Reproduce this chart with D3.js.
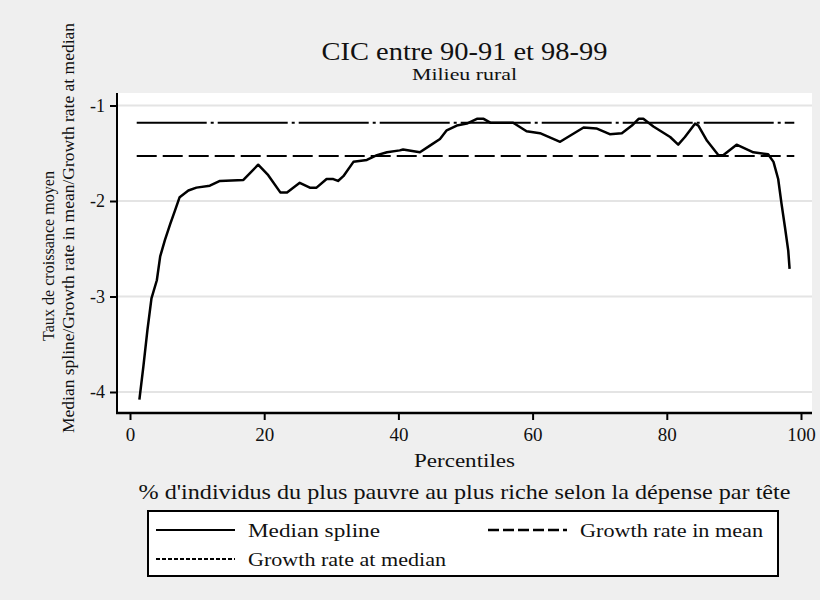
<!DOCTYPE html>
<html>
<head>
<meta charset="utf-8">
<script src="https://cdn.jsdelivr.net/npm/d3@7"></script>
<style>
  body { margin: 0; background: #efefef; }
  svg { display: block; font-family: "Liberation Serif", "DejaVu Serif", serif; }
</style>
</head>
<body>
<svg></svg>
<script>
// percentiles and median spline values
const percentiles = [1.4, 2.0, 2.6, 3.2, 4.0, 4.5, 5.2, 6.0, 6.7, 7.4, 8.7, 9.9, 11.9, 13.4, 16.9,
  19.1, 20.6, 22.4, 23.4, 25.3, 26.8, 27.8, 29.3, 30.3, 31.0, 31.8, 33.3, 35.3, 36.8, 38.3,
  40.2, 40.7, 43.2, 44.7, 46.2, 47.2, 48.7, 50.2, 51.7, 52.7, 53.7, 57.1, 59.1, 61.1, 64.1,
  67.6, 69.5, 71.5, 73.3, 74.8, 75.8, 76.5, 78.0, 80.5, 81.7, 82.7, 84.2, 84.7, 86.0, 87.7,
  88.4, 90.4, 92.9, 95.1, 95.9, 96.6, 97.1, 97.6, 98.1, 98.3];
const medianSpline = [-4.08, -3.73, -3.35, -3.02, -2.83, -2.58, -2.41, -2.24, -2.10, -1.96, -1.89, -1.86, -1.84, -1.79, -1.78,
  -1.62, -1.73, -1.91, -1.91, -1.81, -1.86, -1.86, -1.77, -1.77, -1.79, -1.74, -1.59, -1.57, -1.52, -1.49,
  -1.47, -1.46, -1.49, -1.42, -1.35, -1.26, -1.21, -1.19, -1.14, -1.14, -1.18, -1.18, -1.27, -1.29, -1.38,
  -1.23, -1.24, -1.30, -1.29, -1.21, -1.14, -1.14, -1.22, -1.33, -1.41, -1.33, -1.19, -1.21, -1.37, -1.52,
  -1.52, -1.41, -1.49, -1.51, -1.59, -1.77, -2.03, -2.27, -2.52, -2.71];
const growthMean = -1.53;
const growthMedian = -1.18;
const refRange = [1, 99];
const xTicks = [0, 20, 40, 60, 80, 100];
const yTicks = [-1, -2, -3, -4];

const width = 820, height = 600;
const svg = d3.select("svg").attr("width", width).attr("height", height);

// plot region box
const box = { left: 117, right: 812, top: 93, bottom: 413 };

const x = d3.scaleLinear().domain([0, 100]).range([130, 801]);
const y = d3.scaleLinear().domain([-1, -4]).range([105.5, 392]);

svg.append("rect")
    .attr("x", box.left).attr("y", box.top)
    .attr("width", box.right - box.left).attr("height", box.bottom - box.top)
    .attr("fill", "#fff");

// gridlines
svg.append("g").selectAll("line")
    .data(yTicks)
    .enter().append("line")
    .attr("x1", box.left).attr("x2", box.right)
    .attr("y1", d => y(d)).attr("y2", d => y(d))
    .attr("stroke", "#e4e4e4").attr("stroke-width", 2);

// axes (plain hyphen minus like the original)
const xAxis = d3.axisBottom(x).tickValues(xTicks).tickSize(7).tickPadding(8)
    .tickFormat(d => String(d));
const gx = svg.append("g").attr("transform", `translate(0,${box.bottom})`).call(xAxis)
    .attr("font-family", null).attr("font-size", null);
gx.select(".domain").remove();
gx.selectAll("line").attr("stroke", "#000").attr("stroke-width", 2);
gx.selectAll("text").attr("font-size", 19).attr("fill", "#111");

const yAxis = d3.axisLeft(y).tickValues(yTicks).tickSize(7).tickPadding(5)
    .tickFormat(d => String(d));
const gy = svg.append("g").attr("transform", `translate(${box.left},0)`).call(yAxis)
    .attr("font-family", null).attr("font-size", null);
gy.select(".domain").remove();
gy.selectAll("line").attr("stroke", "#000").attr("stroke-width", 2);
gy.selectAll("text").attr("font-size", 18).attr("fill", "#111");

svg.append("line")
    .attr("x1", box.left).attr("x2", box.left)
    .attr("y1", box.top).attr("y2", box.bottom + 1)
    .attr("stroke", "#000").attr("stroke-width", 2);
svg.append("line")
    .attr("x1", box.left - 1).attr("x2", box.right)
    .attr("y1", box.bottom).attr("y2", box.bottom)
    .attr("stroke", "#000").attr("stroke-width", 2.5);

// reference lines
svg.append("line")
    .attr("x1", x(refRange[0])).attr("x2", x(refRange[1]))
    .attr("y1", y(growthMedian)).attr("y2", y(growthMedian))
    .attr("stroke", "#000").attr("stroke-width", 2)
    .attr("stroke-dasharray", "70,4,3,4");
svg.append("line")
    .attr("x1", x(refRange[0])).attr("x2", x(refRange[1]))
    .attr("y1", y(growthMean)).attr("y2", y(growthMean))
    .attr("stroke", "#000").attr("stroke-width", 2)
    .attr("stroke-dasharray", "20,6");

// median spline
const line = d3.line()
    .x((d, i) => x(percentiles[i]))
    .y(d => y(d));
svg.append("path")
    .datum(medianSpline)
    .attr("d", line)
    .attr("fill", "none")
    .attr("stroke", "#000")
    .attr("stroke-width", 2.5)
    .attr("stroke-linejoin", "round");

// titles
const cx = (box.left + box.right) / 2;
svg.append("text").attr("x", cx).attr("y", 60)
    .attr("text-anchor", "middle").attr("font-size", 26).attr("fill", "#111")
    .attr("textLength", 286).attr("lengthAdjust", "spacingAndGlyphs")
    .text("CIC entre 90-91 et 98-99");
svg.append("text").attr("x", cx).attr("y", 80)
    .attr("text-anchor", "middle").attr("font-size", 17).attr("fill", "#111")
    .attr("textLength", 105).attr("lengthAdjust", "spacingAndGlyphs")
    .text("Milieu rural");

svg.append("text").attr("x", cx).attr("y", 467)
    .attr("text-anchor", "middle").attr("font-size", 19).attr("fill", "#111")
    .attr("textLength", 101).attr("lengthAdjust", "spacingAndGlyphs")
    .text("Percentiles");
svg.append("text").attr("x", cx).attr("y", 499)
    .attr("text-anchor", "middle").attr("font-size", 21).attr("fill", "#111")
    .attr("textLength", 652).attr("lengthAdjust", "spacingAndGlyphs")
    .text("% d'individus du plus pauvre au plus riche selon la dépense par tête");

// y axis title, two lines
svg.append("text")
    .attr("transform", "translate(54,256) rotate(-90)")
    .attr("text-anchor", "middle").attr("font-size", 17).attr("fill", "#111")
    .attr("textLength", 170).attr("lengthAdjust", "spacingAndGlyphs")
    .text("Taux de croissance moyen");
svg.append("text")
    .attr("transform", "translate(74,228) rotate(-90)")
    .attr("text-anchor", "middle").attr("font-size", 17).attr("fill", "#111")
    .attr("textLength", 410).attr("lengthAdjust", "spacingAndGlyphs")
    .text("Median spline/Growth rate in mean/Growth rate at median");

// legend
const legend = svg.append("g");
legend.append("rect")
    .attr("x", 148).attr("y", 511).attr("width", 630).attr("height", 65)
    .attr("fill", "#fff").attr("stroke", "#000").attr("stroke-width", 2);

const legendItems = [
  { label: "Median spline", lx: 156, ty: 530, dash: null, w: 2, len: 132 },
  { label: "Growth rate in mean", lx: 488, ty: 530, dash: "11,4", w: 2.5, len: 183 },
  { label: "Growth rate at median", lx: 156, ty: 559, dash: "4,2", w: 1.8, len: 198 }
];
legendItems.forEach(d => {
  legend.append("line")
      .attr("x1", d.lx).attr("x2", d.lx + 79)
      .attr("y1", d.ty).attr("y2", d.ty)
      .attr("stroke", "#000").attr("stroke-width", d.w)
      .attr("stroke-dasharray", d.dash);
  legend.append("text")
      .attr("x", d.lx + 92).attr("y", d.ty + 7)
      .attr("font-size", 19).attr("fill", "#111")
      .attr("textLength", d.len).attr("lengthAdjust", "spacingAndGlyphs")
      .text(d.label);
});
</script>
</body>
</html>
